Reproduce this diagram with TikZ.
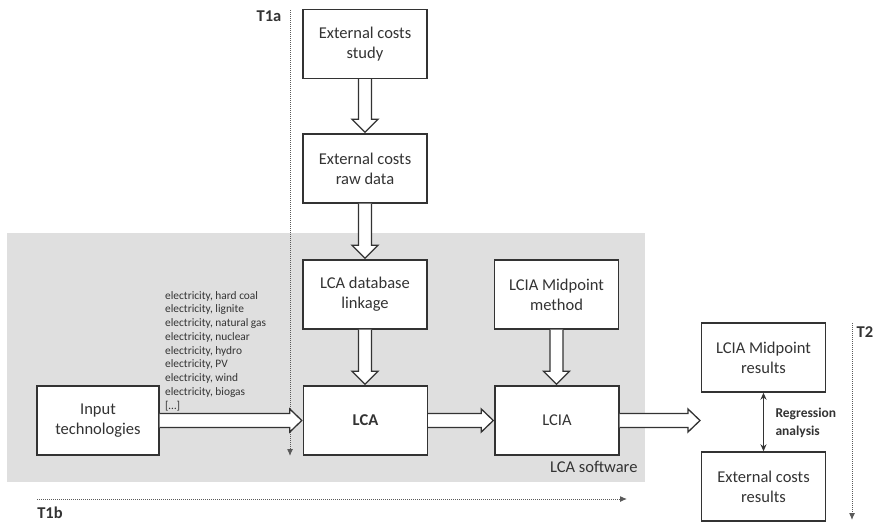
\documentclass[tikz,border=0pt]{standalone}
\usepackage{fontspec}
\setmainfont{Carlito}
\usetikzlibrary{calc,arrows.meta}
\definecolor{ink}{HTML}{333333}
\definecolor{bg}{HTML}{DFDFDF}
\definecolor{dotc}{HTML}{5A5A5A}
\tikzset{
  box/.style={draw=ink, line width=1.4pt, fill=white, minimum width=124pt, minimum height=69pt,
    align=center, text=ink, font=\fontsize{16.5}{20}\selectfont, inner sep=2pt},
  blk/.style={draw=ink, line width=1.3pt, fill=white, line join=miter},
  dotarrow/.style={draw=dotc, line width=1pt, densely dotted, -{Latex[length=7pt,width=6pt]}},
  lbl/.style={text=ink, font=\fontsize{16.5}{20}\selectfont\bfseries},
}
\newcommand\vblock[2]{%
  \draw[blk] let \p1=(#1.south), \p2=(#2.north) in
    (\x1-6.5,\y1) -- (\x1-6.5,\y2+14) -- (\x1-13,\y2+14) -- (\x1,\y2+1) -- (\x1+13,\y2+14) -- (\x1+6.5,\y2+14) -- (\x1+6.5,\y1);}
\newcommand\hblock[2]{%
  \draw[blk] let \p1=(#1.east), \p2=(#2) in
    (\x1,\y1+7) -- (\x2-13,\y1+7) -- (\x2-13,\y1+11.5) -- (\x2-1,\y1) -- (\x2-13,\y1-11.5) -- (\x2-13,\y1-7) -- (\x1,\y1-7);}
\begin{document}
\begin{tikzpicture}[x=1pt,y=-1pt]
\useasboundingbox (0,0) rectangle (879,525);
% grey LCA software area
\fill[bg] (7,233) rectangle (645,482);
\node[text=ink, font=\fontsize{16.5}{20}\selectfont, anchor=east] (sw) at (641,467) {LCA software};

% boxes
\node[box] (study) at (365,44) {External costs\\study};
\node[box] (raw) at (365,168.5) {External costs\\raw data};
\node[box] (link) at (365,294.5) {LCA database\\linkage};
\node[box] (midm) at (556.5,294.5) {LCIA Midpoint\\method};
\node[box, minimum width=122pt] (input) at (98,420.5) {Input\\technologies};
\node[box, font=\fontsize{16.5}{20}\selectfont\bfseries] (lca) at (365.5,420.5) {LCA};
\node[box] (lcia) at (557,420.5) {LCIA};
\node[box] (midr) at (763.5,357.5) {LCIA Midpoint\\results};
\node[box] (ext) at (763.5,486.5) {External costs\\results};
\coordinate (outtip) at (701,420.5);

% electricity list
\node[anchor=north west, align=left, text=ink, inner sep=0pt,
  font=\fontsize{11.4}{13.75}\selectfont] (list) at (165,291)
  {electricity, hard coal\\electricity, lignite\\electricity, natural gas\\electricity, nuclear\\electricity, hydro\\electricity, PV\\electricity, wind\\electricity, biogas\\{[\ldots]}};

% time axes
\coordinate (t1a0) at (290,10);
\coordinate (t1a1) at (290,456);
\draw[dotarrow] (t1a0) -- (t1a1);
\node[lbl] (t1a) at (269,16) {T1a};
\coordinate (t1b0) at (37,499);
\coordinate (t1b1) at (627,499);
\draw[dotarrow] (t1b0) -- (t1b1);
\node[lbl] (t1b) at (50,513) {T1b};
\coordinate (t20) at (852,323);
\coordinate (t21) at (852,520);
\draw[dotarrow] (t20) -- (t21);
\node[lbl] (t2) at (865,332) {T2};

% block arrows
\vblock{study}{raw}
\vblock{raw}{link}
\vblock{link}{lca}
\vblock{midm}{lcia}
\hblock{input}{lca.west}
\hblock{lca}{lcia.west}
\hblock{lcia}{outtip}

% regression
\draw[ink, line width=1.2pt, {Stealth[length=7pt,width=6pt]}-{Stealth[length=7pt,width=6pt]}] (midr.south) -- (ext.north);
\node[anchor=west, align=left, text=ink, font=\fontsize{13.5}{17.5}\selectfont\bfseries] (reg) at (772,423) {Regression\\analysis};
\end{tikzpicture}
\end{document}
